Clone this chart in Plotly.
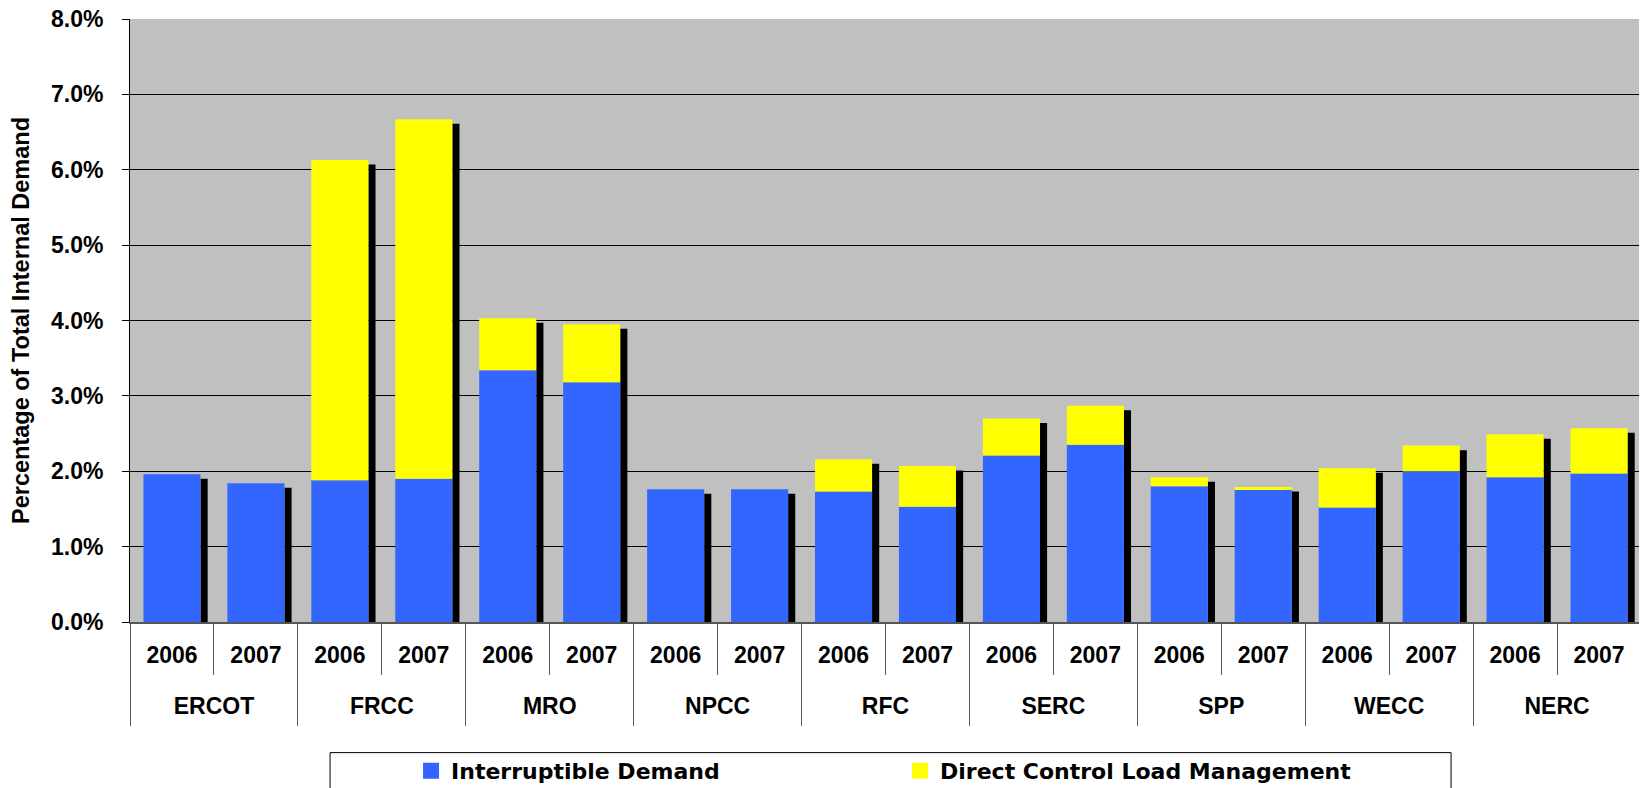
import plotly.graph_objects as go

regions = ["ERCOT", "FRCC", "MRO", "NPCC", "RFC", "SERC", "SPP", "WECC", "NERC"]
years = ["2006", "2007"]
# values in percent of total internal demand, region by region (2006, 2007)
interruptible = [1.96, 1.84, 1.88, 1.90, 3.34, 3.18, 1.76, 1.76, 1.73, 1.53,
                 2.21, 2.35, 1.80, 1.75, 1.52, 2.00, 1.92, 1.97]
direct_control = [0.00, 0.00, 4.25, 4.77, 0.69, 0.77, 0.00, 0.00, 0.43, 0.54,
                  0.49, 0.52, 0.12, 0.04, 0.52, 0.34, 0.57, 0.60]
series_names = ["Interruptible Demand", "Direct Control Load Management"]
series_colors = ["#3366FF", "#FFFF00"]

ny = len(years)
nbar = len(regions) * ny
x_pos = [ri * ny + yi for ri in range(len(regions)) for yi in range(ny)]
year_text = [years[yi] for _ in regions for yi in range(ny)]
region_centers = [ri * ny + (ny - 1) / 2 for ri in range(len(regions))]
year_bounds = [i - 0.5 for i in range(nbar + 1)]
region_bounds = [ri * ny - 0.5 for ri in range(len(regions) + 1)]
xr = [-0.5, nbar - 0.5]

totals = [a + b for a, b in zip(interruptible, direct_control)]
SHADOW_DROP = 0.06
shadow = [t - SHADOW_DROP for t in totals]

BAR_W = 0.68
SH_W = 0.085

LBL = dict(family="Liberation Sans, Arial, sans-serif", size=23, color="black", weight="bold")
DIV = "#5a5a5a"

fig = go.Figure()
fig.add_trace(go.Bar(x=x_pos, y=shadow, width=SH_W, offset=BAR_W / 2,
                     marker=dict(color="black", line=dict(width=0)),
                     showlegend=False, hoverinfo="skip"))
fig.add_trace(go.Bar(x=x_pos, y=interruptible, width=BAR_W, offset=-BAR_W / 2,
                     name=series_names[0], showlegend=False,
                     marker=dict(color=series_colors[0], line=dict(width=0))))
fig.add_trace(go.Bar(x=x_pos, y=direct_control, base=interruptible, width=BAR_W, offset=-BAR_W / 2,
                     name=series_names[1], showlegend=False,
                     marker=dict(color=series_colors[1], line=dict(width=0))))
# legend entries with larger square swatches
for nm, col in zip(series_names, series_colors):
    fig.add_trace(go.Scatter(x=[None], y=[None], mode="markers", name=nm,
                             marker=dict(symbol="square", size=16, color=col, line=dict(width=0)),
                             hoverinfo="skip"))
# invisible helper traces so the overlaid label/divider axes are drawn
for ax in ["x2", "x3", "x4"]:
    fig.add_trace(go.Scatter(x=xr, y=[0, 0], xaxis=ax, yaxis="y", mode="lines",
                             line=dict(width=0, color="rgba(0,0,0,0)"), opacity=0,
                             showlegend=False, hoverinfo="skip"))

W, H = 1639, 780  # page adds an 8px body margin
fig.update_layout(
    width=W, height=H,
    barmode="overlay",
    paper_bgcolor="white",
    plot_bgcolor="#C0C0C0",
    margin=dict(l=122, r=6, t=11, b=166, autoexpand=False),
    showlegend=True,
    legend=dict(orientation="h", x=0.186, xanchor="left", y=-0.212, yanchor="top",
                bgcolor="rgba(0,0,0,0)", borderwidth=0, entrywidth=444, entrywidthmode="pixels",
                font=dict(family="DejaVu Sans", size=22, color="black", weight="bold"),
                traceorder="normal"),
    shapes=[dict(type="rect", xref="paper", yref="paper", x0=0.1324, x1=0.8743,
                 y0=-0.4, y1=-0.2166, line=dict(color="black", width=1), fillcolor="white",
                 layer="below")],
    xaxis=dict(range=xr, tickvals=x_pos, ticktext=year_text, ticks="", showgrid=False, zeroline=False,
               showline=True, linecolor="#555555", linewidth=2, tickfont=LBL, ticklabelstandoff=11,
               ticklabeloverflow="allow"),
    xaxis2=dict(overlaying="x", anchor="y", side="bottom", range=xr, tickvals=year_bounds,
                ticks="outside", ticklen=52, tickcolor=DIV, tickwidth=1, showticklabels=False,
                showgrid=False, zeroline=False, showline=False),
    xaxis3=dict(overlaying="x", anchor="y", side="bottom", range=xr, tickvals=region_centers,
                ticktext=regions, ticks="", showgrid=False, zeroline=False, showline=False,
                tickfont=LBL, ticklabelstandoff=68, ticklabeloverflow="allow"),
    xaxis4=dict(overlaying="x", anchor="y", side="bottom", range=xr, tickvals=region_bounds,
                ticks="outside", ticklen=103, tickcolor=DIV, tickwidth=1, showticklabels=False,
                showgrid=False, zeroline=False, showline=False),
)

fig.update_yaxes(range=[0, 8], dtick=1, tickformat=".1f", ticksuffix="%",
                 showgrid=True, gridcolor="black", gridwidth=1,
                 showline=True, linecolor="black", linewidth=1,
                 ticks="outside", ticklen=7, tickcolor="black", ticklabelstandoff=14,
                 ticklabeloverflow="allow",
                 tickfont=LBL, zeroline=False,
                 title=dict(text="Percentage of Total Internal Demand", standoff=20,
                            font=dict(family="Liberation Sans, Arial, sans-serif", size=23.5,
                                      color="black", weight="bold")))

fig.write_html("out.html")
